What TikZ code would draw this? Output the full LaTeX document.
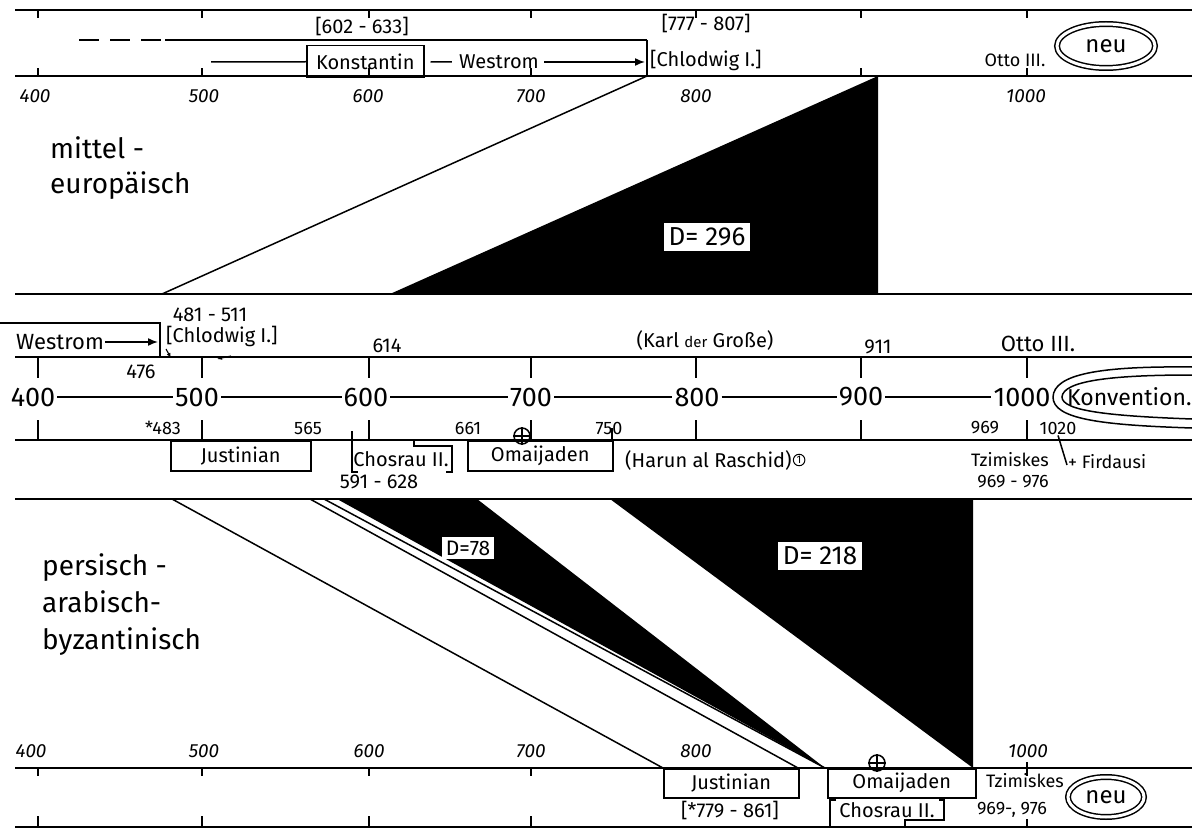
\documentclass[tikz,border=0pt]{standalone}
\usepackage{fontspec}
\setmainfont{Fira Sans}
\usetikzlibrary{arrows.meta,positioning,shapes.geometric}

\begin{document}
\begin{tikzpicture}[
  x=1pt, y=-1pt,
  axisLine/.style={line width=2.2pt},
  thinLine/.style={line width=1.5pt},
  tickMark/.style={line width=1.6pt},
  hText/.style={font=\fontsize{20}{22}\selectfont, inner sep=1pt},
  sText/.style={font=\fontsize{18}{20}\selectfont, inner sep=1pt},
  axisNum/.style={font=\fontsize{19}{21}\selectfont\itshape, inner sep=1pt},
  midNum/.style={font=\fontsize{27}{29}\selectfont, inner sep=2pt},
  bandText/.style={font=\fontsize{28}{35}\selectfont, align=left,
    inner sep=0pt, anchor=north west},
  dBox/.style={fill=white, font=\fontsize{26}{28}\selectfont, inner sep=5pt},
  eraBox/.style={draw, line width=1.5pt, font=\fontsize{20}{22}\selectfont,
    inner sep=3pt, anchor=north west},
  tarr/.style={-{Latex[length=10pt,width=8pt]}, line width=1.5pt},
  smallArr/.style={-{Latex[length=5pt,width=4pt]}, line width=1.1pt},
  dblEll/.style={ellipse, draw, double, double distance=3pt,
    line width=1.5pt, font=\fontsize{24}{26}\selectfont},
  crossMark/.style={circle, draw, line width=1.5pt, minimum size=16pt, inner sep=0pt},
]
  \useasboundingbox (0,0) rectangle (1192,829);

  %% ── neu: top ruler ──────────────────────────────────────────
  \draw[axisLine] (15,10) -- (1192,10);
  \foreach \x in {38,202,369,531,696,861,1027}
    \draw[tickMark] (\x,10) -- (\x,18);

  \draw[thinLine, dash pattern=on 20pt off 11pt] (79,40) -- (165,40);
  \draw[thinLine] (165,40) -- (647,40) coordinate (chlTop);
  \node[hText] (yrKonst) at (362,27) {[602 - 633]};
  \node[hText] (yrChlTop) at (706,24) {[777 - 807]};

  \node[eraBox, minimum width=117pt, minimum height=32pt] (konstTop) at (306,45) {Konstantin};
  \draw[thinLine] (211,62) -- (konstTop.west);
  \node[hText] (westTop) at (499,62) {Westrom};
  \draw[thinLine] ([xshift=6pt]konstTop.east) -- ([xshift=-6pt]westTop.west);
  \coordinate (chlMid) at (645,62);
  \draw[tarr] ([xshift=4pt]westTop.east) -- (chlMid);
  \draw[thinLine] (chlTop) -- (647,75);
  \node[hText, anchor=west] (chlTopTxt) at (649,60) {[Chlodwig I.]};
  \node[sText] (ottoTop) at (1015,60) {Otto III.};
  \node[dblEll, minimum width=98pt, minimum height=44pt] (neuTop) at (1106,46) {neu};

  \draw[axisLine] (15,76) -- (1192,76);
  \foreach \x in {38,202,369,531,861,1027}
    \draw[tickMark] (\x,76) -- (\x,68);
  \foreach \x/\y in {35/400,204/500,368/600,531/700,696/800,1026/1000}
    \node[axisNum] (top\y) at (\x,96) {\y};

  %% ── mitteleuropäisch band ───────────────────────────────────
  \fill (390,294) -- (878,76) -- (878,294) -- cycle;
  \draw[thinLine] (162,294) -- (chlTop |- 0,76);
  \draw[axisLine] (15,294) -- (1192,294);
  \node[dBox] (dUpper) at (707,237) {D= 296};
  \node[bandText] (mittel) at (50,136) {mittel -\\europäisch};

  %% ── Konvention: middle ruler ────────────────────────────────
  \node[hText] (yrChlMid) at (210,315) {481 - 511};
  \node[font=\fontsize{22}{24}\selectfont, inner sep=1pt] (westMid) at (60,342) {Westrom};
  \draw[thinLine] (0,323) -- (160,323) -- (160,357);
  \draw[tarr] (westMid.east) -- (158,342);
  \node[hText] (yr476) at (141,372) {476};
  \node[hText, anchor=west] (chlMidTxt) at (165,336) {[Chlodwig I.]};
  \draw[smallArr] (231,356) -- (217,359);
  \draw[smallArr] (166,349) -- (171,358);
  \node[hText] (yr614) at (387,346) {614};
  \node[hText] (karl) at (705,340) {(Karl {\fontsize{15}{17}\selectfont der} Große)};
  \node[hText] (yr911) at (878,347) {911};
  \node[font=\fontsize{22}{24}\selectfont, inner sep=1pt] (ottoMid) at (1038,344) {Otto III.};

  \draw[axisLine] (15,357) -- (1192,357);
  \foreach \x in {38,202,369,531,696,861,1027}
    \draw[tickMark] (\x,357) -- (\x,378);

  \foreach \x/\y in {33/400,197/500,366/600,531/700,697/800,861/900,1022/1000}
    \node[midNum] (mid\y) at (\x,397) {\y};
  \foreach \f/\t in {400/500,500/600,600/700,700/800,800/900,900/1000}
    \draw[thinLine] (mid\f.east) -- (mid\t.west);

  \draw[thinLine] (1192,367) .. controls (1100,366) and (1054,374) .. (1053,397)
    .. controls (1053,419) and (1100,425) .. (1192,428);
  \draw[thinLine] (1192,375) .. controls (1110,375) and (1063,381) .. (1062,397)
    .. controls (1062,411) and (1110,416) .. (1192,419);
  \node[font=\fontsize{23}{25}\selectfont, inner sep=1pt, anchor=west] (konv) at (1066,397) {Konvention.};

  \draw[axisLine] (15,440) -- (1192,440);
  \foreach \x in {38,202,369,531,696,861,1027}
    \draw[tickMark] (\x,440) -- (\x,420);

  \foreach \x/\y/\n in {163/{*483}/a,308/565/b,468/661/c,609/750/d,985/969/e,1058/1020/f}
    \node[sText] (lowYr\n) at (\x,428) {\y};

  \node[eraBox, minimum width=140pt, minimum height=30pt] (justMid) at (170,440) {Justinian};
  \node[hText] (chosMid) at (401,459) {Chosrau II.};
  \draw[thinLine] (352,431) -- (352,472) -- (358,472);
  \draw[thinLine] (414,440) -- (414,446) -- (452,446) -- (452,472) -- (446,472);
  \node[hText] (yrChos) at (379,482) {591 - 628};
  \node[eraBox, minimum width=145pt, minimum height=30pt] (omaiMid) at (467,440) {Omaijaden};
  \draw[thinLine] (612,428) -- (612,440);
  \node[crossMark] (crossMid) at (522,436) {};
  \draw[thinLine] (crossMid.north) -- (crossMid.south) (crossMid.west) -- (crossMid.east);
  \node[hText, anchor=west] (harun) at (624,460) {(Harun al Raschid)};
  \node[circle, draw, line width=1pt, inner sep=1pt,
    font=\fontsize{11}{11}\selectfont, right=0pt of harun] (fnOne) {1};
  \node[sText] (tzimMid) at (1010,460) {Tzimiskes};
  \node[sText] (yrTzimMid) at (1013,482) {969 - 976};
  \node[sText, anchor=west] (firdausi) at (1067,462) {+ Firdausi};
  \draw[thinLine] (lowYrf.south) -- ([yshift=-3pt]firdausi.west);

  %% ── persisch-arabisch-byzantinisch band ─────────────────────
  \draw[axisLine] (15,499) -- (1192,499);
  \fill (337,499) -- (477,499) -- (825,768) -- cycle;
  \fill (610,499) -- (973,499) -- (973,768) -- cycle;
  \draw[thinLine] (172,499) -- (663,768);
  \draw[thinLine] (310,499) -- (798,768);
  \draw[thinLine] (324,499) -- (825,768);
  \node[dBox, font=\fontsize{21}{23}\selectfont, inner sep=4pt] (dSmall) at (468,548) {D=78};
  \node[dBox] (dLower) at (820,556) {D= 218};
  \node[bandText, font=\fontsize{28}{37}\selectfont] (persisch) at (42,553) {persisch -\\arabisch-\\byzantinisch};

  %% ── neu: bottom ruler ───────────────────────────────────────
  \foreach \x/\y in {31/400,204/500,369/600,531/700,696/800,1028/1000}
    \node[axisNum] (bot\y) at (\x,751) {\y};
  \draw[axisLine] (15,768) -- (1192,768);
  \foreach \x in {38,202,369,531}
    \draw[tickMark] (\x,768) -- (\x,776);
  \draw[tickMark] (1027,762) -- (1027,776);

  \node[eraBox, minimum width=135pt, minimum height=29pt] (justBot) at (663,768) {Justinian};
  \node[hText] (yrJust) at (730,810) {[*779 - 861]};
  \node[crossMark] (crossBot) at (877,763) {};
  \draw[thinLine] (crossBot.north) -- (crossBot.south) (crossBot.west) -- (crossBot.east);
  \node[eraBox, minimum width=148pt, minimum height=29pt] (omaiBot) at (827,768) {Omaijaden};
  \node[hText] (chosBot) at (887,810) {Chosrau II.};
  \draw[thinLine] (836,800) -- (830,800) -- (830,827);
  \draw[thinLine] (905,827) -- (905,820) -- (944,820) -- (944,800) -- (939,800);
  \node[sText] (tzimBot) at (1025,781) {Tzimiskes};
  \node[sText] (yrTzimBot) at (1012,810) {969-, 976};
  \node[dblEll, minimum width=76pt, minimum height=40pt] (neuBot) at (1106,797) {neu};

  \draw[axisLine] (15,827) -- (1192,827);
  \foreach \x in {38,202,369,531}
    \draw[tickMark] (\x,827) -- (\x,816);
  \draw[tickMark] (1027,827) -- (1027,819);
\end{tikzpicture}
\end{document}
